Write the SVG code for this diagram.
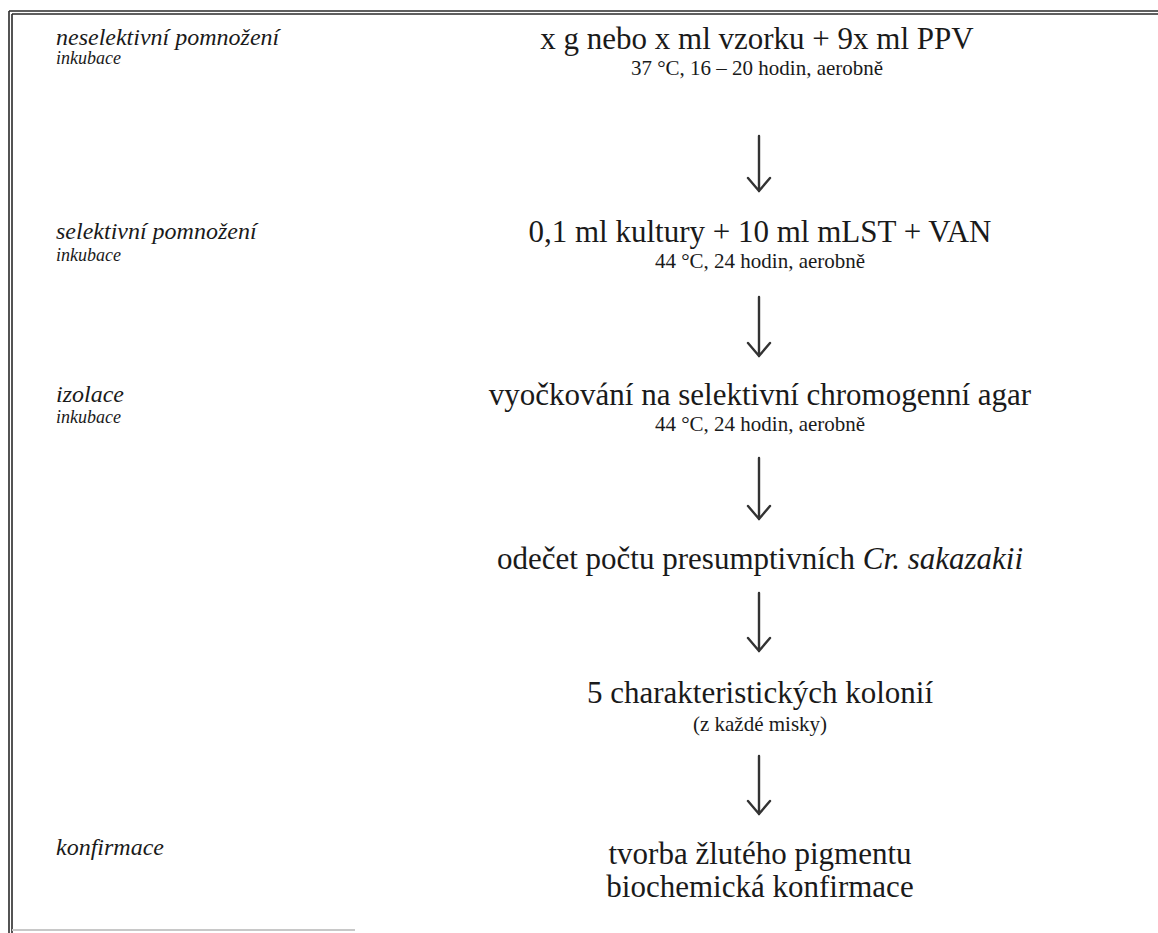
<svg xmlns="http://www.w3.org/2000/svg" width="1158" height="933" viewBox="0 0 1158 933">
<style>
text{font-family:"Liberation Serif","Tinos","DejaVu Serif",serif;fill:#1a1a1a}
.lab{font-style:italic;font-size:24px}
.sub{font-style:italic;font-size:18px}
.main{font-size:31px;text-anchor:middle}
.cond{font-size:21px;text-anchor:middle}
.border{stroke:#2a2a2a;stroke-width:1.6;fill:none}
.arr{stroke:#333;stroke-width:2.4;fill:none;stroke-linecap:round;stroke-linejoin:miter}
</style>
<rect width="1158" height="933" fill="#ffffff"/>
<g id="frame">
<line class="border" x1="9" y1="11" x2="1158" y2="11"/>
<line class="border" x1="12" y1="14" x2="1158" y2="14"/>
<line class="border" x1="9" y1="11" x2="9" y2="933"/>
<line class="border" x1="12" y1="14" x2="12" y2="933"/>
<line x1="12" y1="930" x2="355" y2="930" stroke="#c8c8c8" stroke-width="2"/>
</g>
<g id="labels">
<text class="lab" x="56" y="45">neselektivní pomnožení</text>
<text class="sub" x="56" y="64">inkubace</text>
<text class="lab" x="56" y="239">selektivní pomnožení</text>
<text class="sub" x="56" y="261">inkubace</text>
<text class="lab" x="56" y="402">izolace</text>
<text class="sub" x="56" y="423">inkubace</text>
<text class="lab" x="56" y="855">konfirmace</text>
</g>
<g id="step1">
<text class="main" x="757" y="49">x g nebo x ml vzorku + 9x ml PPV</text>
<text class="cond" x="757" y="75">37 °C, 16 – 20 hodin, aerobně</text>
</g>
<g id="step2">
<text class="main" x="760" y="242">0,1 ml kultury + 10 ml mLST + VAN</text>
<text class="cond" x="760" y="268">44 °C, 24 hodin, aerobně</text>
</g>
<g id="step3">
<text class="main" x="760" y="405">vyočkování na selektivní chromogenní agar</text>
<text class="cond" x="760" y="431">44 °C, 24 hodin, aerobně</text>
</g>
<g id="step4">
<text class="main" x="760" y="569">odečet počtu presumptivních <tspan font-style="italic">Cr. sakazakii</tspan></text>
</g>
<g id="step5">
<text class="main" x="760" y="703">5 charakteristických kolonií</text>
<text class="cond" x="760" y="731">(z každé misky)</text>
</g>
<g id="step6">
<text class="main" x="760" y="864">tvorba žlutého pigmentu</text>
<text class="main" x="760" y="897">biochemická konfirmace</text>
</g>
<g id="connectors">
<path class="arr" d="M759 136 V191 M748 178 L759 191 L770 178"/>
<path class="arr" d="M759 297 V356 M748 343 L759 356 L770 343"/>
<path class="arr" d="M759 458 V519 M748 506 L759 519 L770 506"/>
<path class="arr" d="M759 593 V651 M748 638 L759 651 L770 638"/>
<path class="arr" d="M759 756 V814 M748 801 L759 814 L770 801"/>
</g>
</svg>
